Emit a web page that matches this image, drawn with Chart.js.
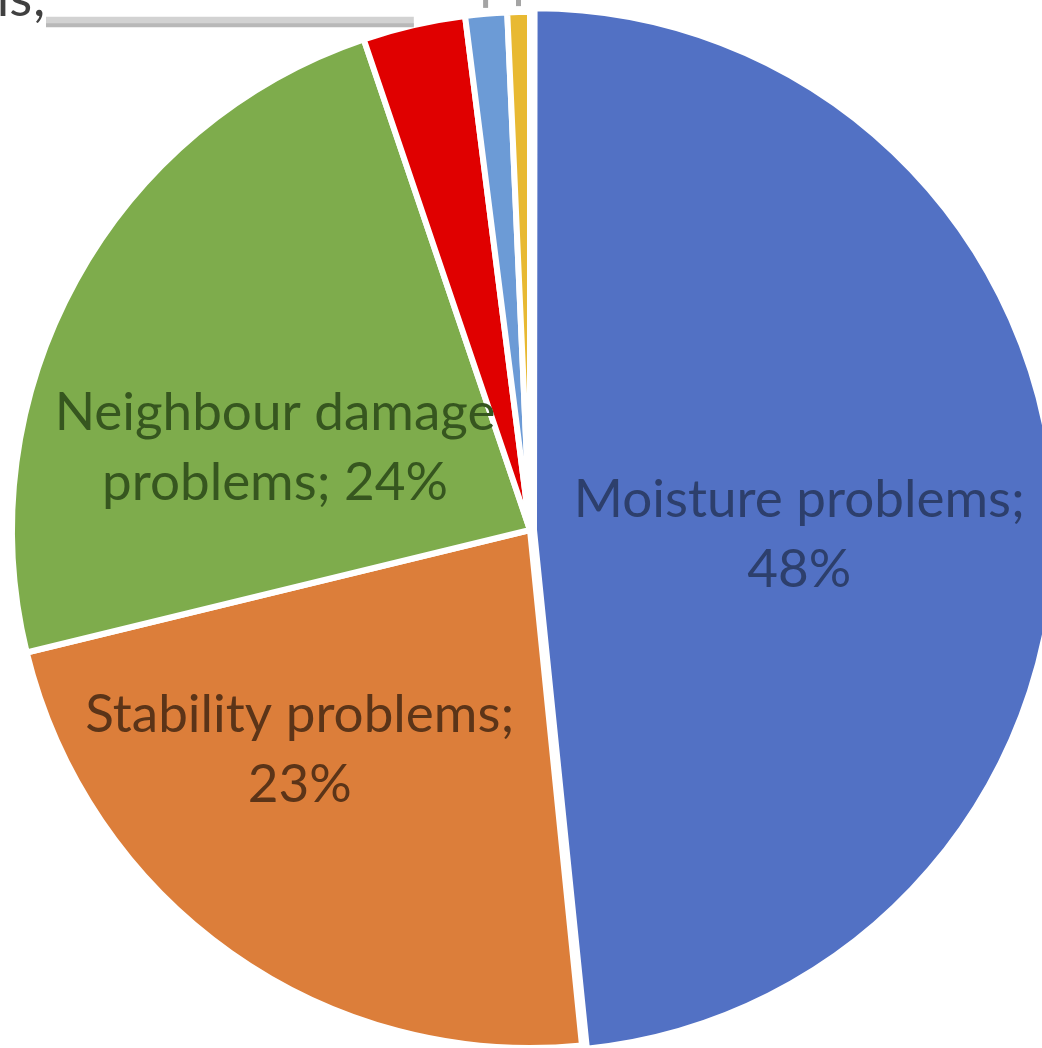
<!DOCTYPE html>
<html>
<head>
<meta charset="utf-8">
<title>Types of problems</title>
<script src="https://cdn.jsdelivr.net/npm/chart.js@4.4.1/dist/chart.umd.min.js"></script>
<style>
    html, body { margin: 0; padding: 0; background: #fff; overflow: hidden; }
    #problemChart { display: block; }
</style>
</head>
<body>
<canvas id="problemChart" width="1042" height="1048"></canvas>
<script>
// Share of reported problems, in percent
const categories = ['Moisture problems', 'Stability problems', 'Neighbour damage problems', 'Other (a)', 'Other (b)', 'Other (c)'];
const shares = [48.4, 22.8, 23.6, 3.2, 1.3, 0.7];
const sliceColors = ['#5271C4', '#DC7E3A', '#7EAC4C', '#E00000', '#6C9BD6', '#E8B932'];
const labelColors = ['#2D3F6C', '#5B3418', '#36561F'];

// the outside label of the red slice only shows its tail at the top edge
const clippedLabel = 'ls;';

// where the inside labels sit: fraction of the radius and a small turn off the slice middle
const labelSpots = [
    { r: 0.52, turn: 4 },
    { r: 0.615, turn: 11 },
    { r: 0.517, turn: -11 }
];

const FONT = '53px Lato';
const LINE_H = 70;

function wrapText(ctx, text, maxWidth) {
    const words = text.split(' ');
    const lines = [];
    let line = '';
    words.forEach(w => {
        const test = line ? line + ' ' + w : w;
        if (line && ctx.measureText(test).width > maxWidth) {
            lines.push(line);
            line = w;
        } else {
            line = test;
        }
    });
    lines.push(line);
    return lines;
}

// Draws the "Category; NN%" labels inside the big slices
const sliceLabels = {
    id: 'sliceLabels',
    afterDatasetsDraw(chart) {
        const ctx = chart.ctx;
        const arcs = chart.getDatasetMeta(0).data;
        const total = shares.reduce((a, b) => a + b, 0);
        ctx.save();
        ctx.font = FONT;
        ctx.textAlign = 'center';
        ctx.textBaseline = 'middle';
        labelSpots.forEach((spot, i) => {
            const arc = arcs[i];
            const mid = (arc.startAngle + arc.endAngle) / 2 + spot.turn * Math.PI / 180;
            const r = arc.outerRadius * spot.r;
            const x = arc.x + Math.cos(mid) * r;
            const y = arc.y + Math.sin(mid) * r;
            const pct = Math.round(shares[i] / total * 100) + '%';
            const lines = wrapText(ctx, categories[i] + '; ' + pct, 470);
            ctx.fillStyle = labelColors[i];
            lines.forEach((ln, k) => {
                ctx.fillText(ln, x, y + (k - (lines.length - 1) / 2) * LINE_H);
            });
        });
        ctx.restore();
    }
};

// Leader lines running from the thin slices to labels beyond the top edge
const leaderLines = {
    id: 'leaderLines',
    afterDraw(chart) {
        const ctx = chart.ctx;
        const arcs = chart.getDatasetMeta(0).data;
        const edge = (arc, extra) => {
            const mid = (arc.startAngle + arc.endAngle) / 2;
            const r = arc.outerRadius + extra;
            return { x: arc.x + Math.cos(mid) * r, y: arc.y + Math.sin(mid) * r };
        };
        ctx.save();
        ctx.lineCap = 'butt';

        // red slice: horizontal leader to the clipped label
        const red = edge(arcs[3], 0);
        ctx.strokeStyle = '#D2D2D2';
        ctx.lineWidth = 9;
        ctx.beginPath();
        ctx.moveTo(red.x, red.y - 4);
        ctx.lineTo(46, red.y - 4);
        ctx.stroke();
        ctx.strokeStyle = '#B8B8B8';
        ctx.lineWidth = 4;
        ctx.beginPath();
        ctx.moveTo(red.x, red.y);
        ctx.lineTo(46, red.y);
        ctx.stroke();

        ctx.font = FONT;
        ctx.fillStyle = '#404040';
        ctx.textAlign = 'right';
        ctx.textBaseline = 'alphabetic';
        ctx.fillText(clippedLabel, 46, 16);

        // light blue and yellow slices: short vertical leaders
        ctx.strokeStyle = '#A4A4A4';
        ctx.lineWidth = 5;
        [4, 5].forEach(i => {
            const p = edge(arcs[i], 6);
            ctx.beginPath();
            ctx.moveTo(p.x, p.y);
            ctx.lineTo(p.x, -20);
            ctx.stroke();
        });
        ctx.restore();
    }
};

function drawChart() {
    const ctx = document.getElementById('problemChart').getContext('2d');
    new Chart(ctx, {
        type: 'pie',
        data: {
            labels: categories,
            datasets: [{
                data: shares,
                backgroundColor: sliceColors,
                borderColor: '#fff',
                borderWidth: 6,
                offset: [16, 0, 0, 0, 0, 0]
            }]
        },
        options: {
            responsive: false,
            animation: false,
            events: [],
            radius: 518,
            layout: { padding: { left: 18, top: 12, right: 0, bottom: 0 } },
            plugins: {
                legend: { display: false },
                tooltip: { enabled: false }
            }
        },
        plugins: [sliceLabels, leaderLines]
    });
}

document.fonts.load(FONT).then(drawChart, drawChart);
</script>
</body>
</html>
